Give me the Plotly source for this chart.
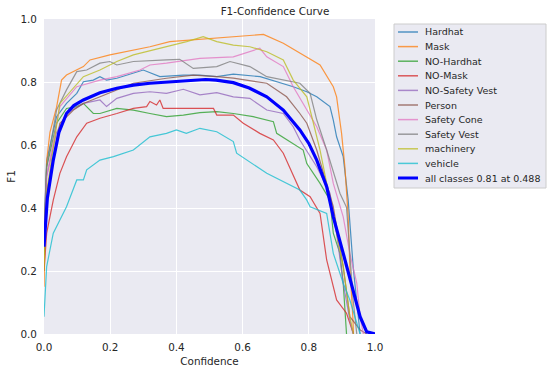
import plotly.graph_objects as go

# F1 vs confidence
hardhat_x = [0.0, 0.008, 0.038, 0.068, 0.099, 0.119, 0.149, 0.169, 0.189, 0.22, 0.3, 0.35, 0.421, 0.471, 0.522, 0.572, 0.653, 0.703, 0.753, 0.794, 0.824, 0.864, 0.874, 0.884, 0.904, 0.919, 0.934, 0.955]
hardhat_y = [0.3, 0.55, 0.69, 0.732, 0.764, 0.801, 0.806, 0.817, 0.806, 0.812, 0.838, 0.817, 0.822, 0.822, 0.817, 0.825, 0.817, 0.801, 0.785, 0.769, 0.753, 0.722, 0.679, 0.626, 0.563, 0.425, 0.214, 0.0]

mask_x = [0.0, 0.008, 0.018, 0.038, 0.053, 0.068, 0.119, 0.139, 0.199, 0.27, 0.32, 0.38, 0.471, 0.572, 0.663, 0.723, 0.773, 0.834, 0.874, 0.884, 0.899, 0.909, 0.919, 0.924, 0.933, 0.935]
mask_y = [0.15, 0.55, 0.64, 0.72, 0.806, 0.822, 0.849, 0.87, 0.886, 0.9, 0.912, 0.928, 0.935, 0.944, 0.951, 0.923, 0.891, 0.854, 0.785, 0.753, 0.637, 0.531, 0.372, 0.214, 0.055, 0.0]

no_hardhat_x = [0.0, 0.008, 0.038, 0.068, 0.099, 0.119, 0.149, 0.169, 0.22, 0.27, 0.32, 0.37, 0.421, 0.471, 0.522, 0.572, 0.632, 0.693, 0.703, 0.753, 0.783, 0.794, 0.834, 0.864, 0.874, 0.894, 0.904, 0.914]
no_hardhat_y = [0.25, 0.53, 0.669, 0.716, 0.722, 0.732, 0.7, 0.7, 0.716, 0.711, 0.7, 0.69, 0.695, 0.703, 0.706, 0.7, 0.69, 0.674, 0.637, 0.605, 0.584, 0.541, 0.478, 0.425, 0.32, 0.256, 0.161, 0.0]

no_mask_x = [0.0, 0.008, 0.028, 0.048, 0.068, 0.099, 0.129, 0.169, 0.22, 0.27, 0.31, 0.32, 0.34, 0.35, 0.36, 0.512, 0.522, 0.572, 0.602, 0.652, 0.693, 0.723, 0.773, 0.804, 0.834, 0.854, 0.884, 0.914, 0.935]
no_mask_y = [0.2, 0.32, 0.425, 0.51, 0.563, 0.626, 0.669, 0.685, 0.7, 0.716, 0.722, 0.738, 0.727, 0.743, 0.716, 0.716, 0.695, 0.695, 0.669, 0.637, 0.616, 0.574, 0.457, 0.436, 0.383, 0.235, 0.108, 0.066, 0.0]

no_safety_vest_x = [0.0, 0.008, 0.038, 0.068, 0.119, 0.169, 0.189, 0.22, 0.27, 0.32, 0.37, 0.421, 0.471, 0.522, 0.572, 0.622, 0.673, 0.723, 0.753, 0.773, 0.824, 0.864, 0.884, 0.904, 0.924, 0.934]
no_safety_vest_y = [0.3, 0.5, 0.64, 0.7, 0.732, 0.743, 0.722, 0.748, 0.764, 0.769, 0.764, 0.777, 0.759, 0.766, 0.753, 0.748, 0.711, 0.7, 0.658, 0.616, 0.531, 0.447, 0.32, 0.161, 0.044, 0.0]

person_x = [0.0, 0.008, 0.048, 0.089, 0.119, 0.169, 0.27, 0.37, 0.451, 0.522, 0.572, 0.673, 0.733, 0.773, 0.794, 0.824, 0.854, 0.874, 0.904, 0.924, 0.955, 0.975]
person_y = [0.3, 0.45, 0.669, 0.711, 0.732, 0.753, 0.796, 0.812, 0.822, 0.817, 0.812, 0.796, 0.753, 0.7, 0.669, 0.584, 0.478, 0.404, 0.214, 0.055, 0.013, 0.0]

safety_cone_x = [0.0, 0.008, 0.048, 0.099, 0.169, 0.22, 0.29, 0.32, 0.37, 0.471, 0.572, 0.632, 0.652, 0.673, 0.723, 0.753, 0.794, 0.824, 0.854, 0.874, 0.904, 0.924, 0.945, 0.955, 0.965]
safety_cone_y = [0.3, 0.5, 0.722, 0.785, 0.806, 0.817, 0.838, 0.854, 0.86, 0.875, 0.88, 0.902, 0.907, 0.88, 0.849, 0.785, 0.711, 0.658, 0.584, 0.478, 0.372, 0.256, 0.161, 0.055, 0.0]

safety_vest_x = [0.0, 0.008, 0.038, 0.068, 0.099, 0.129, 0.169, 0.199, 0.22, 0.27, 0.37, 0.41, 0.451, 0.522, 0.562, 0.622, 0.673, 0.773, 0.804, 0.824, 0.854, 0.894, 0.914, 0.924, 0.934, 0.945]
safety_vest_y = [0.35, 0.531, 0.711, 0.775, 0.833, 0.838, 0.86, 0.865, 0.854, 0.865, 0.87, 0.872, 0.843, 0.849, 0.865, 0.849, 0.817, 0.796, 0.764, 0.68, 0.584, 0.447, 0.402, 0.267, 0.108, 0.0]

machinery_x = [0.0, 0.008, 0.048, 0.119, 0.169, 0.22, 0.27, 0.37, 0.431, 0.481, 0.522, 0.572, 0.622, 0.673, 0.723, 0.753, 0.794, 0.814, 0.834, 0.854, 0.874, 0.904, 0.924, 0.935]
machinery_y = [0.2, 0.45, 0.732, 0.817, 0.838, 0.865, 0.886, 0.912, 0.928, 0.944, 0.928, 0.917, 0.912, 0.896, 0.87, 0.806, 0.753, 0.669, 0.584, 0.478, 0.372, 0.214, 0.055, 0.0]

vehicle_x = [0.0, 0.008, 0.028, 0.068, 0.099, 0.119, 0.129, 0.169, 0.21, 0.27, 0.32, 0.37, 0.4, 0.43, 0.471, 0.522, 0.572, 0.582, 0.673, 0.773, 0.794, 0.804, 0.854, 0.874, 0.904, 0.924, 0.955]
vehicle_y = [0.055, 0.214, 0.32, 0.404, 0.489, 0.489, 0.521, 0.552, 0.563, 0.584, 0.626, 0.637, 0.648, 0.637, 0.653, 0.642, 0.611, 0.574, 0.51, 0.457, 0.425, 0.404, 0.383, 0.256, 0.161, 0.108, 0.0]

all_x = [0.0, 0.01, 0.028, 0.045, 0.068, 0.09, 0.119, 0.169, 0.22, 0.27, 0.32, 0.37, 0.42, 0.471, 0.488, 0.52, 0.572, 0.62, 0.673, 0.723, 0.773, 0.8, 0.824, 0.854, 0.874, 0.904, 0.934, 0.955, 0.975, 1.0]
all_y = [0.277, 0.43, 0.552, 0.64, 0.7, 0.725, 0.743, 0.766, 0.78, 0.79, 0.796, 0.8, 0.804, 0.807, 0.808, 0.806, 0.798, 0.781, 0.753, 0.711, 0.648, 0.605, 0.552, 0.468, 0.372, 0.256, 0.14, 0.055, 0.007, 0.0]
all_label = "all classes 0.81 at 0.488"

classes = [
    ("Hardhat", hardhat_x, hardhat_y, "#1f77b4"),
    ("Mask", mask_x, mask_y, "#ff7f0e"),
    ("NO-Hardhat", no_hardhat_x, no_hardhat_y, "#2ca02c"),
    ("NO-Mask", no_mask_x, no_mask_y, "#d62728"),
    ("NO-Safety Vest", no_safety_vest_x, no_safety_vest_y, "#9467bd"),
    ("Person", person_x, person_y, "#8c564b"),
    ("Safety Cone", safety_cone_x, safety_cone_y, "#e377c2"),
    ("Safety Vest", safety_vest_x, safety_vest_y, "#7f7f7f"),
    ("machinery", machinery_x, machinery_y, "#bcbd22"),
    ("vehicle", vehicle_x, vehicle_y, "#17becf"),
]

W, H = 550, 371
L, R, T, B = 44, 175, 19, 37
PW, PH = W - L - R, H - T - B


def px(x):
    return (x - L) / PW


def py(y):
    return (H - B - y) / PH


fig = go.Figure()
for name, xs, ys, color in classes:
    fig.add_trace(go.Scatter(x=xs, y=ys, mode="lines", name=name,
                             line=dict(color=color, width=1.2), opacity=0.78))
fig.add_trace(go.Scatter(x=all_x, y=all_y, mode="lines", name=all_label,
                         line=dict(color="#0000ff", width=3.2)))

# hand-built legend (plotly's own legend rows are taller than the reference's)
shapes = [dict(type="rect", xref="paper", yref="paper", x0=px(394), x1=px(546),
               y0=py(188), y1=py(24), fillcolor="#eaeaf2", line=dict(color="#cccccc", width=1),
               layer="below")]
annotations = []
entries = [(n, c, 1.5, 0.75) for n, _, _, c in classes] + [(all_label, "#0000ff", 3, 1)]
for i, (name, color, width, alpha) in enumerate(entries):
    yy = 32 + i * 14.6
    shapes.append(dict(type="line", xref="paper", yref="paper", x0=px(398), x1=px(418),
                       y0=py(yy), y1=py(yy), line=dict(color=color, width=width), opacity=alpha))
    annotations.append(dict(text=name, xref="paper", yref="paper", x=px(423), y=py(yy),
                            xanchor="left", yanchor="middle", showarrow=False,
                            font=dict(size=9.5, color="#262626")))

axis = dict(range=[0, 1], dtick=0.2, tickformat=".1f", showgrid=True, gridcolor="white",
            gridwidth=1, zeroline=False, showline=False, ticks="outside", ticklen=4,
            tickcolor="rgba(0,0,0,0)", tickfont=dict(size=10.4, color="#262626"))

fig.update_layout(
    width=W, height=H,
    margin=dict(l=L, r=R, t=T, b=B, autoexpand=False),
    showlegend=False,
    paper_bgcolor="white", plot_bgcolor="#eaeaf2",
    font=dict(family="DejaVu Sans", size=10.4, color="#262626"),
    title=dict(text="F1-Confidence Curve", x=px(209.5), xanchor="center", y=1 - 11 / H,
               yanchor="middle", font=dict(size=10.4)),
    xaxis=dict(axis, title=dict(text="Confidence", standoff=5, font=dict(size=10.4))),
    yaxis=dict(axis, title=dict(text="F1", standoff=2, font=dict(size=10.4))),
    shapes=shapes,
    annotations=annotations,
)

# page body has a default 8px margin; drop it so the figure fills the window
fig.write_html("out.html", config={"displayModeBar": False},
               post_script="document.body.style.margin='0';")
